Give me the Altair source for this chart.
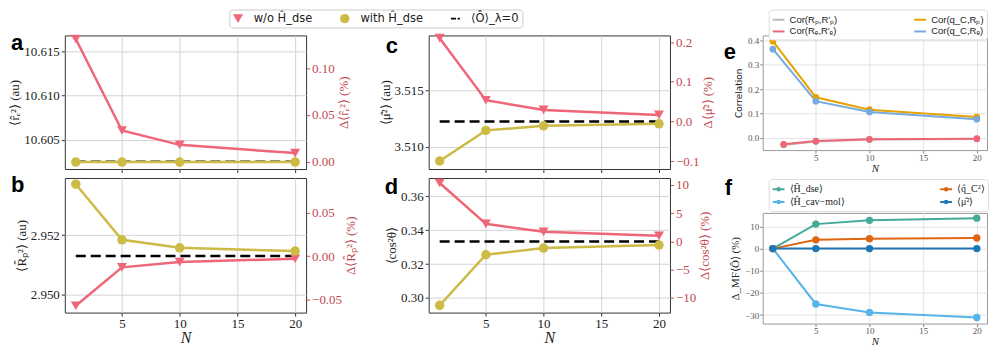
import altair as alt
import pandas as pd

# ---------------- data ----------------
N = [1, 5, 10, 20]
N_PAIR = [2, 5, 10, 20]
X_DOMAIN = [0.05, 20.95]
X_TICKS = [5, 10, 15, 20]

SERIES = ["w/o Ĥ_dse", "with Ĥ_dse", "⟨Ô⟩_λ=0"]

# panel a  <r_e^2>
re2_wo = [10.61643, 10.60606, 10.60443, 10.60350]
re2_with = [10.60248, 10.60248, 10.60248, 10.60248]
re2_ref = 10.60252
re2_lim = [10.60169, 10.61684]
re2_ticks = [10.605, 10.610, 10.615]
re2_pct_ticks = [0.0, 0.05, 0.10]

# panel b  <R_p^2>
Rp2_wo = [2.94961, 2.95091, 2.95109, 2.95120]
Rp2_with = [2.95372, 2.95184, 2.95157, 2.95146]
Rp2_ref = 2.95129
Rp2_lim = [2.94938, 2.95393]
Rp2_ticks = [2.950, 2.952]
Rp2_pct_ticks = [-0.05, 0.0, 0.05]

# panel c  <mu^2>
mu2_wo = [3.51961, 3.51412, 3.51326, 3.51282]
mu2_with = [3.50874, 3.51145, 3.51185, 3.51203]
mu2_ref = 3.51224
mu2_lim = [3.50803, 3.51985]
mu2_ticks = [3.510, 3.515]
mu2_pct_ticks = [-0.1, 0.0, 0.1, 0.2]

# panel d  <cos^2 theta>
cos2_wo = [0.36782, 0.34371, 0.33900, 0.33665]
cos2_with = [0.29565, 0.32547, 0.32941, 0.33118]
cos2_ref = 0.33333
cos2_lim = [0.29135, 0.37076]
cos2_ticks = [0.30, 0.32, 0.34, 0.36]
cos2_pct_ticks = [-10, -5, 0, 5, 10]

# panel e  correlations
COR_LABELS = ["Cor(Rₚ,R′ₚ)", "Cor(Rₑ,R′ₑ)", "Cor(q_C,Rₚ)", "Cor(q_C,Rₑ)"]
cor_Rp = [-0.030, -0.016, -0.008, -0.005]   # at N_PAIR
cor_Re = [-0.027, -0.014, -0.007, -0.004]   # at N_PAIR
cor_qRp = [0.397, 0.166, 0.115, 0.085]      # at N
cor_qRe = [0.364, 0.150, 0.106, 0.076]      # at N
cor_lim = [-0.0511, 0.4206]
cor_ticks = [0.0, 0.1, 0.2, 0.3, 0.4]

# panel f  mean-field deviations
MF_LABELS = ["⟨Ĥ_dse⟩", "⟨Ĥ_cav−mol⟩", "⟨q̂_C²⟩", "⟨μ̂²⟩"]
mf_Hdse = [0.0, 11.06, 12.77, 13.75]
mf_Hcav = [0.0, -24.98, -28.80, -31.10]
mf_qC2 = [0.0, 3.96, 4.50, 4.80]
mf_mu2 = [0.0, 0.0, 0.0, 0.0]
mf_lim = [-33.83, 16.13]
mf_ticks = [-30, -20, -10, 0, 10]

# ---------------- style ----------------
RED = "#EE6677"
OLIVE = "#CCBB44"
AXRED = "#C24A4F"
COR_COLORS = ["#BBBBBB", "#EE6677", "#E8A200", "#77AADD"]
MF_COLORS = ["#44AA99", "#56B4E9", "#DD6611", "#1F77B4"]
SERIF = "Liberation Serif"
SANS = "DejaVu Sans"
DASH_PATH = "M-1,-0.2H0.15V0.2H-1Z M0.5,-0.2H1V0.2H0.5Z"
LINE_DOT = "M-1,0H1M0.22,0A0.22,0.22,0,1,1,-0.22,0A0.22,0.22,0,1,1,0.22,0"

W_AC = 242
H_AC = 134
H_BD = 135
W_E = 225
H_E = 115
H_F = 111

INDEP = dict(fill="independent", shape="independent", size="independent",
             stroke="independent")


def letter_layer(letter, dx, dy):
    return alt.Chart(pd.DataFrame({"t": [letter]})).mark_text(
        font="Liberation Sans", fontWeight="bold", fontSize=22,
        align="left", baseline="alphabetic", color="black"
    ).encode(text="t:N", x=alt.value(dx), y=alt.value(dy))


def dual_panel(wo, wi, ref, lim, lticks, lfmt, rticks, rfmt, ltitle, rtitle,
               letter, ldx, ldy, xlabels, height, legend):
    df = pd.DataFrame({
        "N": N + N,
        "val": wo + wi,
        "series": [SERIES[0]] * len(N) + [SERIES[1]] * len(N),
    })
    df["pct"] = (df["val"] - ref) / ref * 100
    plim = [(v - ref) / ref * 100 for v in lim]
    refdf = pd.DataFrame({"N": [N[0]], "N2": [N[-1]], "val": [ref]})

    xenc = alt.X("N:Q", scale=alt.Scale(domain=X_DOMAIN, nice=False, zero=False),
                 axis=alt.Axis(values=X_TICKS, labels=xlabels, grid=True,
                               title="N" if xlabels else None,
                               titleFont=SERIF, titleFontStyle="italic",
                               titleFontSize=16, titlePadding=0,
                               labelFontSize=13, labelPadding=1))
    yenc = alt.Y("val:Q", scale=alt.Scale(domain=lim, nice=False, zero=False),
                 axis=alt.Axis(values=lticks, format=lfmt, grid=True, title=ltitle,
                               titleFont=SERIF, titleFontSize=13, titlePadding=2,
                               labelFontSize=13, labelPadding=2))

    rule = alt.Chart(refdf).mark_rule(color="black", strokeWidth=2.5,
                                      strokeDash=[10, 5]).encode(
        x=xenc, x2="N2:Q", y=yenc)
    line_wo = alt.Chart(df).transform_filter(
        alt.FieldEqualPredicate(field="series", equal=SERIES[0])
    ).mark_line(color=RED, strokeWidth=2.5).encode(x=xenc, y=yenc)
    line_wi = alt.Chart(df).transform_filter(
        alt.FieldEqualPredicate(field="series", equal=SERIES[1])
    ).mark_line(color=OLIVE, strokeWidth=2.5).encode(x=xenc, y=yenc)

    if legend:
        leg = alt.Legend(title=None, orient="none", legendX=165, legendY=-26,
                         direction="horizontal", labelFont=SANS, labelFontSize=11.5,
                         labelColor="#222", labelOffset=10, columnPadding=26,
                         padding=3, strokeColor="#cccccc", fillColor="white",
                         cornerRadius=3, symbolStrokeWidth=0)
    else:
        leg = None
    pts = alt.Chart(df).mark_point(filled=True, opacity=1, strokeWidth=0).encode(
        x=xenc, y=yenc,
        fill=alt.Fill("series:N", scale=alt.Scale(domain=SERIES, range=[RED, OLIVE, "black"]), legend=leg),
        shape=alt.Shape("series:N", scale=alt.Scale(domain=SERIES, range=["triangle-down", "circle", DASH_PATH]), legend=leg),
        size=alt.Size("series:N", scale=alt.Scale(domain=SERIES, range=[100, 80, 200]), legend=leg),
    )
    left = alt.layer(rule, line_wo, line_wi, pts, letter_layer(letter, ldx, ldy))
    right = alt.Chart(df).mark_point(opacity=0).encode(
        x=xenc,
        y=alt.Y("pct:Q", scale=alt.Scale(domain=plim, nice=False, zero=False),
                axis=alt.Axis(orient="right", values=rticks, format=rfmt, grid=False,
                              title=rtitle, titleColor=AXRED, titleFont=SERIF,
                              titleFontSize=13, titlePadding=3,
                              titleAngle=270, titleBaseline="top",
                              labelColor=AXRED, tickColor=AXRED,
                              labelFontSize=13, labelPadding=2)))
    return alt.layer(left, right).resolve_scale(y="independent").properties(
        width=W_AC, height=height,
        view=alt.ViewBackground(stroke="#333333", strokeWidth=1))


pa = dual_panel(re2_wo, re2_with, re2_ref, re2_lim, re2_ticks, ".3f",
                re2_pct_ticks, ".2f", "⟨r̂ₑ²⟩ (au)", "Δ⟨r̂ₑ²⟩ (%)",
                "a", -54, 15, False, H_AC, True)
pb = dual_panel(Rp2_wo, Rp2_with, Rp2_ref, Rp2_lim, Rp2_ticks, ".3f",
                Rp2_pct_ticks, ".2f", "⟨R̂ₚ²⟩ (au)", "Δ⟨R̂ₚ²⟩ (%)",
                "b", -54, 14, True, H_BD, False)
pc = dual_panel(mu2_wo, mu2_with, mu2_ref, mu2_lim, mu2_ticks, ".3f",
                mu2_pct_ticks, ".1f", "⟨μ̂²⟩ (au)", "Δ⟨μ̂²⟩ (%)",
                "c", -43, 18, False, H_AC, False)
pd_ = dual_panel(cos2_wo, cos2_with, cos2_ref, cos2_lim, cos2_ticks, ".2f",
                 cos2_pct_ticks, "d", "⟨cos²θ⟩", "Δ⟨cos²θ⟩ (%)",
                 "d", -44, 16, True, H_BD, False)


def small_axis_x():
    return alt.Axis(values=X_TICKS, grid=True, title="N", titleFont=SERIF,
                    titleFontStyle="italic", titleFontSize=11, titlePadding=0,
                    labelFontSize=9, labelColor="#555555", tickColor="#888888",
                    gridColor="#e3e3e3", labelPadding=0, tickSize=3)


def small_axis_y(ticks, fmt, title, font, size):
    return alt.Axis(values=ticks, format=fmt, grid=True, title=title,
                    titleFont=font, titleFontSize=size, titlePadding=4,
                    labelFontSize=9, labelColor="#555555", tickColor="#888888",
                    gridColor="#e3e3e3", labelPadding=1, tickSize=3)


def small_legend(dy, sym, font, fsize, colpad):
    return alt.Legend(title=None, orient="none", legendX=6, legendY=dy,
                      direction="horizontal", columns=2, columnPadding=colpad,
                      rowPadding=0, symbolType=sym, symbolSize=140,
                      symbolStrokeWidth=2, labelFont=font, labelFontSize=fsize,
                      labelColor="#222", labelOffset=4, padding=3,
                      strokeColor="#dddddd", fillColor="white", cornerRadius=3)


# panel e
e_rows = []
for lab, xs, vals in [(COR_LABELS[0], N_PAIR, cor_Rp), (COR_LABELS[1], N_PAIR, cor_Re),
                      (COR_LABELS[2], N, cor_qRp), (COR_LABELS[3], N, cor_qRe)]:
    for xv, v in zip(xs, vals):
        e_rows.append({"N": xv, "val": v, "series": lab})
e_df = pd.DataFrame(e_rows)
E_LEG = [COR_LABELS[0], COR_LABELS[2], COR_LABELS[1], COR_LABELS[3]]
E_LEG_COL = [COR_COLORS[0], COR_COLORS[2], COR_COLORS[1], COR_COLORS[3]]

ex = alt.X("N:Q", scale=alt.Scale(domain=X_DOMAIN, nice=False, zero=False), axis=small_axis_x())
ey = alt.Y("val:Q", scale=alt.Scale(domain=cor_lim, nice=False, zero=False),
           axis=small_axis_y(cor_ticks, ".1f", "Correlation", SANS, 9))
e_lines = alt.Chart(e_df).mark_line(strokeWidth=2).encode(
    x=ex, y=ey,
    stroke=alt.Stroke("series:N", scale=alt.Scale(domain=E_LEG, range=E_LEG_COL),
                      legend=small_legend(-26, "stroke", "Liberation Sans", 9.5, 73)))
e_pts = alt.Chart(e_df).mark_circle(size=45, opacity=1).encode(
    x=ex, y=ey,
    fill=alt.Fill("series:N", scale=alt.Scale(domain=COR_LABELS[::-1], range=COR_COLORS[::-1]),
                  legend=None))
pe = alt.layer(e_lines, e_pts, letter_layer("e", -39, 24)).properties(
    width=W_E, height=H_E, view=alt.ViewBackground(stroke="#999999", strokeWidth=1))

# panel f
f_rows = []
for lab, vals in zip(MF_LABELS, [mf_Hdse, mf_Hcav, mf_qC2, mf_mu2]):
    for xv, v in zip(N, vals):
        f_rows.append({"N": xv, "val": v, "series": lab})
f_df = pd.DataFrame(f_rows)
F_LEG = [MF_LABELS[0], MF_LABELS[2], MF_LABELS[1], MF_LABELS[3]]
F_LEG_COL = [MF_COLORS[0], MF_COLORS[2], MF_COLORS[1], MF_COLORS[3]]

fx = alt.X("N:Q", scale=alt.Scale(domain=X_DOMAIN, nice=False, zero=False), axis=small_axis_x())
fy = alt.Y("val:Q", scale=alt.Scale(domain=mf_lim, nice=False, zero=False),
           axis=small_axis_y(mf_ticks, "d", "Δ_MF⟨Ô⟩ (%)", SERIF, 11))
f_lines = alt.Chart(f_df).mark_line(strokeWidth=2).encode(
    x=fx, y=fy,
    stroke=alt.Stroke("series:N", scale=alt.Scale(domain=F_LEG, range=F_LEG_COL),
                      legend=small_legend(-34, LINE_DOT, SERIF, 10, 91)))
f_pts = alt.Chart(f_df).mark_circle(size=55, opacity=1).encode(
    x=fx, y=fy,
    fill=alt.Fill("series:N", scale=alt.Scale(domain=MF_LABELS[::-1], range=MF_COLORS[::-1]),
                  legend=None))
pf = alt.layer(f_lines, f_pts, letter_layer("f", -38, -18)).properties(
    width=W_E, height=H_F, view=alt.ViewBackground(stroke="#999999", strokeWidth=1))

inner = alt.concat(pa, pc, pb, pd_, columns=2,
                   spacing={"row": 9, "column": 123}, bounds="flush"
                   ).resolve_scale(**INDEP).resolve_legend(**INDEP)
col_e = alt.vconcat(pe, pf, spacing=63, bounds="flush"
                    ).resolve_scale(**INDEP).resolve_legend(**INDEP)

chart = alt.hconcat(inner, col_e, spacing=7).resolve_scale(**INDEP).resolve_legend(
    **INDEP).properties(padding=0).configure_axis(
    domain=False, labelFont=SERIF, labelColor="#222222", tickColor="#333333",
    tickSize=3.5, gridColor="#d4d4d4", gridWidth=1, titleFontWeight="normal",
    titleColor="#222222"
).configure_legend(symbolStrokeColor=None)

chart.save("out.html", embed_options={"renderer": "svg", "actions": False})
